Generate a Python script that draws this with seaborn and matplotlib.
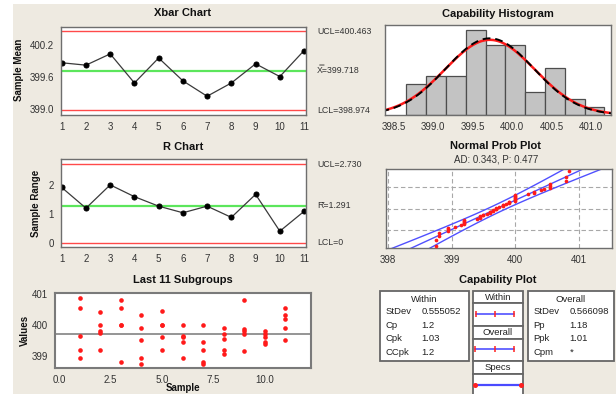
import numpy as np
import pandas as pd
import matplotlib
matplotlib.use("Agg")
import matplotlib.pyplot as plt
import matplotlib.transforms as mtransforms
from matplotlib.patches import Rectangle
from matplotlib.ticker import FormatStrFormatter
import seaborn as sns
from statistics import NormalDist

# ---------------- data ----------------
samples = list(range(1, 12))
xbar_means = [399.87, 399.825, 400.037, 399.49, 399.96, 399.53, 399.24, 399.49, 399.85, 399.61, 400.10]
sample_ranges = [1.92, 1.20, 2.01, 1.60, 1.27, 1.04, 1.27, 0.88, 1.68, 0.40, 1.09]
xbar_ucl, xbar_center, xbar_lcl = 400.463, 399.718, 398.974
r_ucl, r_center, r_lcl = 2.730, 1.291, 0.0

subgroup_values = [
    [400.85, 400.55, 399.65, 399.20, 398.95],
    [400.40, 400.00, 399.80, 399.75, 399.20],
    [400.80, 400.55, 400.00, 400.00, 398.80],
    [400.30, 399.90, 399.50, 398.95, 398.75],
    [400.45, 400.00, 400.00, 399.60, 399.20],
    [400.00, 399.65, 399.60, 399.45, 398.95],
    [400.00, 399.45, 399.20, 398.80, 398.75],
    [399.90, 399.70, 399.55, 399.20, 399.05],
    [400.80, 399.85, 399.80, 399.70, 399.15],
    [399.80, 399.70, 399.60, 399.45, 399.40],
    [400.55, 400.30, 400.20, 399.90, 399.50],
]

hist_edges = [398.665, 398.915, 399.165, 399.415, 399.665, 399.915,
              400.165, 400.415, 400.665, 400.915, 401.165]
hist_counts = [4, 5, 5, 11, 9, 9, 3, 6, 2, 1]

process_mean = 399.718
sd_within = 0.555052
sd_overall = 0.566098
lsl, usl = 398.0, 402.0
within_stats = [("StDev", "0.555052"), ("Cp", "1.2"), ("Cpk", "1.03"), ("CCpk", "1.2")]
overall_stats = [("StDev", "0.566098"), ("Pp", "1.18"), ("Ppk", "1.01"), ("Cpm", "*")]
ad_text = "AD: 0.343, P: 0.477"

# ---------------- style ----------------
sns.set_style("white")
plt.rcParams["font.family"] = ["Liberation Sans", "DejaVu Sans"]
BG = "#EEEAE1"
FRAME = "#6e6e6e"
TICKC = "#333333"
RED = "#ff4a4a"
GREEN = "#5ce65c"
BLUE = "#5050ff"

W, H = 616, 394
fig = plt.figure(figsize=(W / 100, H / 100), dpi=100)
fig.patch.set_facecolor("white")
fig.add_artist(Rectangle((13 / W, 0), (W - 13) / W, (H - 4) / H,
                         transform=fig.transFigure, facecolor=BG,
                         edgecolor="none", zorder=-10))


def px_axes(l, t, r, b, **kw):
    return fig.add_axes([l / W, 1 - b / H, (r - l) / W, (b - t) / H], **kw)


def px_text(x, y, s, **kw):
    kw.setdefault("va", "center")
    fig.text(x / W, 1 - y / H, s, **kw)


def frame(ax, lw=1.0, color=FRAME):
    ax.set_facecolor("white")
    for sp in ax.spines.values():
        sp.set_visible(True)
        sp.set_color(color)
        sp.set_linewidth(lw)
    ax.tick_params(direction="out", length=3, width=0.8, color=color,
                   labelsize=7, labelcolor=TICKC, pad=2)
    ax.set_xlabel("")
    ax.set_ylabel("")


def limit_labels(ax, entries):
    trans = mtransforms.offset_copy(
        mtransforms.blended_transform_factory(ax.transAxes, ax.transData),
        fig=fig, x=8, y=0, units="points")
    for val, txt in entries:
        ax.text(1, val, txt, transform=trans, ha="left", va="center",
                fontsize=6.3, color=TICKC, family=["Liberation Sans", "DejaVu Sans"])


title_kw = dict(fontsize=8, fontweight="bold", ha="center", color="#111111")
ylab_kw = dict(fontsize=7, fontweight="bold", rotation=90, ha="center", color="#111111")

# ---------------- Xbar chart ----------------
ax = px_axes(61, 27, 306, 115)
ax.axhline(xbar_ucl, color=RED, lw=1)
ax.axhline(xbar_lcl, color=RED, lw=1)
ax.axhline(xbar_center, color=GREEN, lw=1.6)
sns.lineplot(x=samples, y=xbar_means, ax=ax, color="#3a3a3a", lw=0.9,
             marker="o", markersize=3.6, markeredgecolor="black",
             markerfacecolor="black")
ax.set_xlim(0.97, 11.08)
ax.set_ylim(398.887, 400.543)
ax.set_xticks(samples)
ax.set_yticks([399.0, 399.6, 400.2])
ax.yaxis.set_major_formatter(FormatStrFormatter("%.1f"))
frame(ax)
limit_labels(ax, [(xbar_ucl, f"UCL={xbar_ucl:.3f}"),
                  (xbar_center, f"X\u033f={xbar_center:.3f}"),
                  (xbar_lcl, f"LCL={xbar_lcl:.3f}")])
px_text(183, 13.5, "Xbar Chart", **title_kw)
px_text(18.5, 70, "Sample Mean", **ylab_kw)

# ---------------- R chart ----------------
ax = px_axes(61, 159, 306, 247)
ax.axhline(r_ucl, color=RED, lw=1)
ax.axhline(r_lcl, color=RED, lw=1)
ax.axhline(r_center, color=GREEN, lw=1.6)
sns.lineplot(x=samples, y=sample_ranges, ax=ax, color="#3a3a3a", lw=0.9,
             marker="o", markersize=3.6, markeredgecolor="black",
             markerfacecolor="black")
ax.set_xlim(0.97, 11.08)
ax.set_ylim(-0.15, 2.91)
ax.set_xticks(samples)
ax.set_yticks([0, 1, 2])
frame(ax)
limit_labels(ax, [(r_ucl, f"UCL={r_ucl:.3f}"),
                  (r_center, f"R\u0304={r_center:.3f}"),
                  (r_lcl, "LCL=0")])
px_text(183, 146.7, "R Chart", **title_kw)
px_text(36, 203, "Sample Range", **ylab_kw)

# ---------------- Last 11 subgroups ----------------
ax = px_axes(55, 293, 311, 368)
sub_df = pd.DataFrame({
    "Sample": np.repeat(samples, [len(v) for v in subgroup_values]),
    "Values": np.concatenate(subgroup_values),
})
ax.axhline(xbar_center, color="#8c8c8c", lw=1.3, zorder=1)
sns.scatterplot(data=sub_df, x="Sample", y="Values", ax=ax, color="#ff1a1a",
                s=11, linewidth=0, zorder=3)
ax.set_xlim(-0.21, 12.25)
ax.set_ylim(398.615, 401.02)
ax.set_xticks([0, 2.5, 5, 7.5, 10])
ax.xaxis.set_major_formatter(FormatStrFormatter("%.1f"))
ax.set_yticks([399, 400, 401])
frame(ax, lw=1.5, color="#7a7a7a")
px_text(183, 280, "Last 11 Subgroups", **title_kw)
px_text(183, 388.3, "Sample", fontsize=7, fontweight="bold", ha="center", color="#111111")
px_text(24.5, 330, "Values", **ylab_kw)

# ---------------- Capability histogram ----------------
ax = px_axes(385, 25, 611, 115)
centers = [(a + b) / 2 for a, b in zip(hist_edges[:-1], hist_edges[1:])]
sns.histplot(x=centers, weights=hist_counts, bins=hist_edges, ax=ax,
             color="#c3c3c3", edgecolor="#4d4d4d", linewidth=0.9, alpha=1)
grid = np.linspace(398.35, 401.3, 300)
bw = hist_edges[1] - hist_edges[0]
n_obs = sum(hist_counts)
for sd, col, ls, lw in [(sd_overall, "#ff1a1a", "-", 1.8), (sd_within, "black", (0, (4, 2.5)), 1.4)]:
    dens = n_obs * bw * np.exp(-0.5 * ((grid - process_mean) / sd) ** 2) / (sd * np.sqrt(2 * np.pi))
    sns.lineplot(x=grid, y=dens, ax=ax, color=col, lw=lw, linestyle=ls)
ax.set_xlim(398.395, 401.248)
ax.set_ylim(0, 11.6)
ax.set_xticks([398.5, 399.0, 399.5, 400.0, 400.5, 401.0])
ax.xaxis.set_major_formatter(FormatStrFormatter("%.1f"))
ax.set_yticks([])
frame(ax)
px_text(498, 13.7, "Capability Histogram", **title_kw)

# ---------------- Normal probability plot ----------------
ax = px_axes(386, 169, 612, 248)
vals = np.sort(np.concatenate(subgroup_values))
n = len(vals)
nd = NormalDist()
zs = np.array([nd.inv_cdf((i - 0.3) / (n + 0.4)) for i in range(1, n + 1)])
zline = np.linspace(-2.6, 2.6, 100)
fit = process_mean + sd_overall * zline
half = 1.96 * sd_overall * np.sqrt(1 / n + zline ** 2 / (2 * n))
for xs in (fit - half, fit, fit + half):
    ax.plot(xs, zline, color=BLUE, lw=1.0, zorder=2)
sns.scatterplot(x=vals, y=zs, ax=ax, color="#ff1a1a", s=7, linewidth=0, zorder=3)
ax.set_xlim(397.97, 401.52)
ax.set_ylim(-2.38, 2.38)
ax.set_xticks([398, 399, 400, 401])
ax.set_yticks([nd.inv_cdf(p) for p in (0.1, 0.5, 0.9)])
ax.set_yticklabels([])
frame(ax)
ax.tick_params(axis="y", length=0)
ax.grid(True, color="#a8a8a8", lw=0.8, linestyle=(0, (4, 2.5)))
ax.set_axisbelow(True)
px_text(496, 145.7, "Normal Prob Plot", **title_kw)
px_text(496, 159.3, ad_text, fontsize=7, ha="center", color=TICKC)

# ---------------- Capability plot ----------------
px_text(497.7, 280, "Capability Plot", **title_kw)
ov = fig.add_axes([0, 0, 1, 1], zorder=1)
ov.set_xlim(0, W)
ov.set_ylim(H, 0)
ov.axis("off")
ov.patch.set_alpha(0)
box_kw = dict(facecolor="white", edgecolor="#666666", lw=1.3)
txt_kw = dict(fontsize=6.8, color="#222222", va="center")
# within / overall stat boxes
for (x0, x1, head, stats, xlab, xval) in [
        (380, 469, "Within", within_stats, 385.7, 421.7),
        (527.7, 614.3, "Overall", overall_stats, 533.3, 569.3)]:
    ov.add_patch(Rectangle((x0, 291), x1 - x0, 70, **box_kw))
    ov.text((x0 + x1) / 2, 299, head, ha="center", **txt_kw)
    for k, (lab, val) in enumerate(stats):
        yy = 311.7 + k * 13.55
        ov.text(xlab, yy, lab, ha="left", **txt_kw)
        ov.text(xval, yy, val, ha="left", **txt_kw)
# middle column of label/line boxes
col_l, col_r = 472.7, 523.3
rows = [("Within", 290.7, 303.3, 325.7), ("Overall", 325.7, 339, 361),
        ("Specs", 361, 374.3, 400)]
for lab, t0, t1, t2 in rows:
    ov.add_patch(Rectangle((col_l, t0), col_r - col_l, t1 - t0, **box_kw))
    ov.add_patch(Rectangle((col_l, t1), col_r - col_l, t2 - t1, **box_kw))
    ov.text((col_l + col_r) / 2, (t0 + t1) / 2, lab, ha="center", **txt_kw)

iv = px_axes(col_l, 296.35, col_r, 402.35, zorder=2)
iv.set_xlim(397.8, 402.23)
iv.set_ylim(2.5, -0.5)
iv.axis("off")
iv.patch.set_alpha(0)
intervals = [
    (process_mean - 3 * sd_within, process_mean, process_mean + 3 * sd_within),
    (process_mean - 3 * sd_overall, process_mean, process_mean + 3 * sd_overall),
]
for k, (lo, mid, hi) in enumerate(intervals):
    iv.plot([lo, hi], [k, k], color="#6a6aff", lw=1.4)
    iv.plot([lo, mid, hi], [k, k, k], ls="none", marker="|", ms=4, mew=1.1, color="#ff2020")
iv.plot([lsl, usl], [2, 2], color="#4a4aff", lw=1.6)
iv.plot([lsl, usl], [2, 2], ls="none", marker="o", ms=2.6, color="#ff2020")

fig.savefig("out.png", dpi=100, facecolor=fig.get_facecolor())
